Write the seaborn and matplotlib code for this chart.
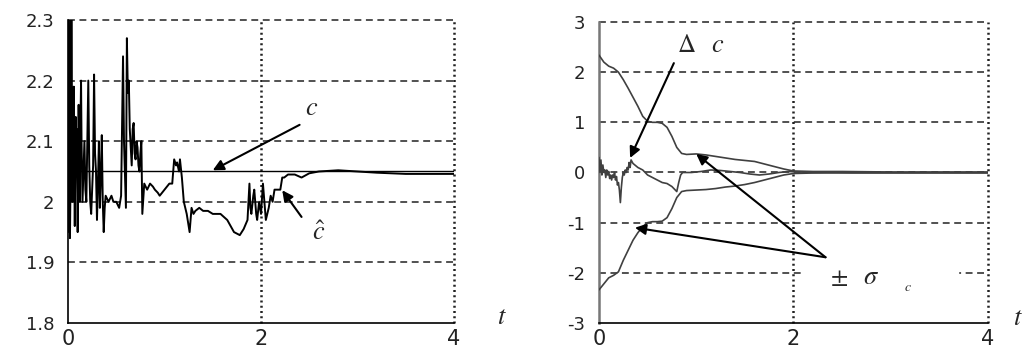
import matplotlib
matplotlib.use("Agg")
import matplotlib.pyplot as plt
import numpy as np
import pandas as pd
import seaborn as sns

# ---- left panel: estimate c_hat vs true c ----
c_true = 2.05
chat_t = [0.00, 0.005, 0.01, 0.015, 0.02, 0.03, 0.035, 0.04, 0.045, 0.05,
          0.06, 0.065, 0.07, 0.08, 0.085, 0.09, 0.10, 0.105, 0.11, 0.12,
          0.125, 0.135, 0.14, 0.15, 0.16, 0.17, 0.18, 0.19, 0.20, 0.21,
          0.22, 0.23, 0.24, 0.25, 0.26, 0.27, 0.28, 0.29, 0.30, 0.31,
          0.32, 0.33, 0.34, 0.35, 0.36, 0.37, 0.38, 0.39, 0.42, 0.45,
          0.47, 0.50, 0.53, 0.55, 0.57, 0.58, 0.60, 0.61, 0.62, 0.63,
          0.64, 0.66, 0.67, 0.68, 0.69, 0.70, 0.71, 0.72, 0.73, 0.74,
          0.75, 0.76, 0.77, 0.79, 0.82, 0.85, 0.88, 0.90, 0.93, 0.95,
          1.00, 1.05, 1.08, 1.10, 1.12, 1.13, 1.15, 1.16, 1.18, 1.20,
          1.23, 1.26, 1.28, 1.30, 1.32, 1.36, 1.40, 1.45, 1.50, 1.55,
          1.58, 1.65, 1.72, 1.78, 1.82, 1.86, 1.88, 1.89, 1.90, 1.92,
          1.93, 1.95, 1.96, 1.98, 2.00, 2.02, 2.04, 2.05, 2.08, 2.10,
          2.12, 2.14, 2.16, 2.20, 2.22, 2.24, 2.28, 2.35, 2.42, 2.50,
          2.60, 2.80, 3.00, 3.20, 3.50, 4.00]
chat_v = [1.95, 2.30, 2.20, 2.05, 1.94, 2.10, 2.30, 2.15, 2.00, 2.08,
          2.19, 2.05, 1.96, 2.14, 2.05, 2.12, 1.95, 2.05, 2.16, 2.00,
          2.08, 2.20, 2.10, 2.00, 2.05, 2.10, 2.02, 2.00, 2.10, 2.20,
          2.06, 2.00, 1.98, 2.02, 2.06, 2.21, 2.08, 2.05, 1.97, 2.03,
          2.10, 1.99, 2.04, 2.11, 2.00, 1.95, 1.99, 2.01, 2.00, 2.01,
          2.00, 2.00, 1.99, 2.01, 2.24, 2.10, 1.99, 2.27, 2.18, 2.20,
          2.12, 2.06, 2.12, 2.13, 2.08, 2.07, 2.10, 2.09, 2.06, 2.05,
          2.08, 2.10, 1.98, 2.03, 2.02, 2.03, 2.025, 2.02, 2.015, 2.01,
          2.02, 2.03, 2.03, 2.07, 2.06, 2.065, 2.05, 2.07, 2.04, 2.00,
          1.98, 1.95, 1.99, 1.98, 1.985, 1.99, 1.985, 1.985, 1.98, 1.98,
          1.98, 1.97, 1.95, 1.945, 1.955, 1.97, 2.03, 1.99, 1.98, 2.01,
          2.02, 1.98, 1.97, 2.00, 1.98, 2.03, 1.99, 1.97, 1.99, 2.01,
          2.00, 2.02, 2.02, 2.02, 2.04, 2.04, 2.045, 2.045, 2.04, 2.047,
          2.05, 2.052, 2.05, 2.048, 2.046, 2.046]

# ---- right panel: error and +/- sigma bounds ----
sig_t = [0.00, 0.05, 0.10, 0.15, 0.20, 0.25, 0.30, 0.35, 0.40, 0.45,
         0.50, 0.55, 0.60, 0.65, 0.70, 0.75, 0.80, 0.85, 0.90, 1.00,
         1.10, 1.20, 1.30, 1.40, 1.50, 1.60, 1.70, 1.80, 1.90, 2.00,
         2.20, 2.50, 3.00, 3.50, 4.00]
sig_up = [2.34, 2.20, 2.12, 2.08, 2.00, 1.85, 1.68, 1.50, 1.32, 1.12,
          1.02, 1.00, 1.00, 0.98, 0.90, 0.72, 0.50, 0.38, 0.36, 0.37,
          0.35, 0.32, 0.29, 0.26, 0.24, 0.22, 0.17, 0.12, 0.07, 0.03,
          0.02, 0.02, 0.01, 0.01, 0.01]
sig_lo = [-2.34, -2.22, -2.10, -2.05, -1.98, -1.75, -1.55, -1.35, -1.20, -1.08,
          -1.00, -0.98, -0.98, -0.97, -0.90, -0.72, -0.50, -0.38, -0.36, -0.35,
          -0.34, -0.32, -0.29, -0.27, -0.24, -0.20, -0.15, -0.10, -0.05, -0.02,
          -0.01, -0.01, -0.01, -0.01, -0.01]
dc_t = [0.00, 0.01, 0.02, 0.03, 0.04, 0.05, 0.06, 0.07, 0.08, 0.09,
        0.10, 0.11, 0.12, 0.13, 0.14, 0.15, 0.16, 0.17, 0.18, 0.19,
        0.20, 0.21, 0.22, 0.23, 0.24, 0.25, 0.26, 0.27, 0.28, 0.29,
        0.30, 0.31, 0.32, 0.33, 0.35, 0.40, 0.45, 0.50, 0.55, 0.60,
        0.65, 0.70, 0.75, 0.80, 0.82, 0.84, 0.86, 0.95, 1.05, 1.15,
        1.25, 1.35, 1.45, 1.55, 1.65, 1.75, 1.85, 1.95, 2.05, 2.20,
        2.40, 2.60, 3.00, 4.00]
dc_v = [0.30, 0.00, 0.25, -0.05, 0.15, 0.00, 0.05, -0.10, 0.05, -0.05,
        0.02, -0.12, -0.05, -0.15, -0.05, -0.10, 0.00, -0.15, -0.08, -0.25,
        -0.20, -0.35, -0.60, -0.30, -0.10, 0.00, -0.05, 0.05, 0.00, 0.10,
        0.05, 0.20, 0.10, 0.25, 0.18, 0.10, 0.05, -0.05, -0.10, -0.15,
        -0.20, -0.22, -0.28, -0.38, -0.20, -0.05, 0.00, 0.00, 0.02, 0.05,
        0.04, 0.02, 0.00, -0.03, -0.05, -0.03, 0.00, 0.02, 0.01, 0.00,
        0.01, 0.00, 0.00, 0.00]

left_yticks = [1.8, 1.9, 2.0, 2.1, 2.2, 2.3]
left_ylabels = ["1.8", "1.9", "2", "2.1", "2.2", "2.3"]
right_yticks = [-3, -2, -1, 0, 1, 2, 3]
right_ylabels = ["-3", "-2", "-1", "0", "1", "2", "3"]
xticks = [0, 2, 4]

sns.set_style("white")
plt.rcParams["font.family"] = ["DejaVu Sans"]
plt.rcParams["mathtext.fontset"] = "stix"
plt.rcParams["axes.unicode_minus"] = False

fig = plt.figure(figsize=(10.26, 3.47), dpi=100)
ax1 = fig.add_axes([0.0663, 0.0692, 0.3762, 0.8732])
ax2 = fig.add_axes([0.5838, 0.0692, 0.3791, 0.8674])


def style_axes(ax, yticks, ylabels, ylim, spine_color):
    ax.set_xlim(0, 4)
    ax.set_ylim(*ylim)
    ax.set_xticks(xticks)
    ax.set_xticklabels([str(x) for x in xticks], fontsize=15, color="#222222")
    ax.set_yticks(yticks)
    ax.set_yticklabels(ylabels, fontsize=13, color="#222222")
    ax.tick_params(length=0)
    ax.tick_params(axis="y", pad=10)
    ax.tick_params(axis="x", pad=4)
    for s in ["top", "right"]:
        ax.spines[s].set_visible(False)
    ax.spines["bottom"].set_color("black")
    ax.spines["bottom"].set_linewidth(1.2)
    ax.spines["left"].set_color(spine_color)
    ax.spines["left"].set_linewidth(1.8 if spine_color != "black" else 1.2)
    for y in yticks[1:]:
        ax.axhline(y, color="#222222", lw=1.1, dashes=(4.5, 3), zorder=1,
                   clip_on=False)
    for x in [2, 4]:
        ax.axvline(x, color="#222222", lw=1.8, dashes=(0.8, 1.3), zorder=1,
                   clip_on=False)
    ax.set_xlabel("")
    ax.set_ylabel("")


# left panel
df_c = pd.DataFrame({"t": chat_t, "v": chat_v})
sns.lineplot(data=df_c, x="t", y="v", ax=ax1, color="black", lw=1.4,
             estimator=None, sort=False, zorder=3)
ax1.axhline(c_true, color="black", lw=1.0, zorder=3)
style_axes(ax1, left_yticks, left_ylabels, (1.8, 2.3), "black")

arrow = dict(arrowstyle="-|>", color="black", lw=1.5, mutation_scale=16,
             shrinkA=0, shrinkB=0)
ax1.annotate("", xy=(1.50, 2.052), xytext=(2.40, 2.127), arrowprops=arrow, zorder=4)
ax1.annotate("", xy=(2.22, 2.019), xytext=(2.42, 1.975), arrowprops=arrow, zorder=4)
ax1.text(2.52, 2.155, "$c$", fontsize=19, ha="center", va="center")
ax1.text(2.60, 1.948, r"$\hat{c}$", fontsize=19, ha="center", va="center")
ax1.text(4.5, 1.81, "$t$", fontsize=19, ha="center", va="center", clip_on=False)

# right panel
gray = "#404040"
sns.lineplot(x=sig_t, y=sig_up, ax=ax2, color=gray, lw=1.2, estimator=None, zorder=3)
sns.lineplot(x=sig_t, y=sig_lo, ax=ax2, color=gray, lw=1.2, estimator=None, zorder=3)
sns.lineplot(x=dc_t, y=dc_v, ax=ax2, color=gray, lw=1.2, estimator=None, zorder=3)
style_axes(ax2, right_yticks, right_ylabels, (-3, 3), "#777777")

ax2.axhspan(-2.12, -1.88, xmin=2.1 / 4, xmax=3.69 / 4, color="white", zorder=2)
ax2.annotate("", xy=(0.32, 0.29), xytext=(0.77, 2.18), arrowprops=arrow, zorder=4)
ax2.annotate("", xy=(1.00, 0.37), xytext=(2.33, -1.69), arrowprops=arrow, zorder=4)
ax2.annotate("", xy=(0.37, -1.10), xytext=(2.33, -1.69), arrowprops=arrow, zorder=4)
ax2.text(0.90, 2.54, r"$\Delta$", fontsize=18, ha="center", va="center")
ax2.text(1.22, 2.54, "$c$", fontsize=19, ha="center", va="center")
ax2.text(2.47, -2.08, r"$\pm$", fontsize=18, ha="center", va="center", zorder=4)
ax2.text(2.80, -2.08, r"$\sigma$", fontsize=19, ha="center", va="center", zorder=4)
ax2.text(3.18, -2.28, "$c$", fontsize=10, ha="center", va="center", zorder=4)
ax2.text(4.31, -2.90, "$t$", fontsize=19, ha="center", va="center", clip_on=False)

fig.savefig("out.png", dpi=100)
